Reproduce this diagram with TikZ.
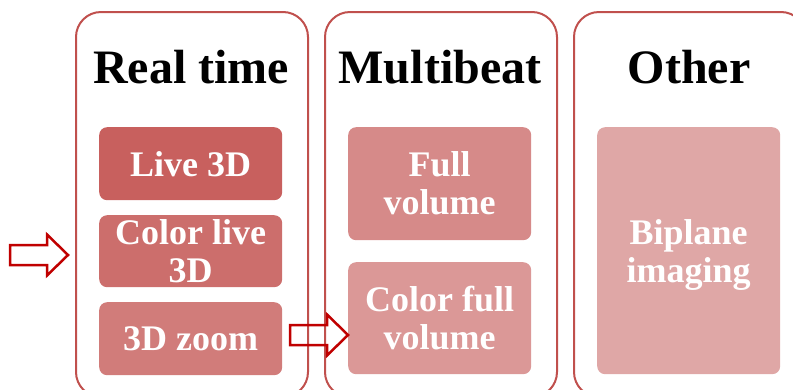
\documentclass[tikz,border=0pt]{standalone}
\usepackage{fontspec}
\setmainfont{Liberation Serif}
\usetikzlibrary{positioning}

\definecolor{frameRed}{RGB}{192,80,77}
\definecolor{arrowRed}{RGB}{192,0,0}
\definecolor{itemA}{RGB}{200,96,94}
\definecolor{itemB}{RGB}{204,110,108}
\definecolor{itemC}{RGB}{209,124,122}
\definecolor{itemD}{RGB}{214,138,137}
\definecolor{itemE}{RGB}{219,152,151}
\definecolor{itemF}{RGB}{223,167,166}

\tikzset{
  blockarr/.pic={
    \draw[arrowRed, line width=2.5pt, line join=miter]
      (0,0) -- (-21,-20.5) -- (-21,-10) -- (-58,-10) -- (-58,10)
      -- (-21,10) -- (-21,20.5) -- cycle;
  }
}

\begin{document}
\begin{tikzpicture}[x=1pt, y=-1pt,
    panel/.style={draw=frameRed, line width=2pt, rounded corners=25pt,
      minimum width=232pt, minimum height=385pt, anchor=north west, inner sep=0pt},
    head/.style={anchor=base, font=\fontsize{48}{50}\selectfont\bfseries},
    item/.style={rounded corners=8pt, minimum width=183pt, anchor=north west,
      inner sep=0pt, text=white, align=center,
      font=\fontsize{36}{38}\selectfont\bfseries}]

    \useasboundingbox (0,0) rectangle (793,389);
    \clip (0,0) rectangle (793,389);

    % Panels
    \node[panel] (rt) at (75,11) {};
    \node[panel] (mb) at (324,11) {};
    \node[panel] (ot) at (573,11) {};

    % Titles
    \node[head] (rtHead) at (191,83) {Real time};
    \node[head] (mbHead) at (440,83) {Multibeat};
    \node[head] (otHead) at (689,83) {Other};

    % Real time
    \node[item, fill=itemA, minimum height=73pt] (live) at (99,127) {Live 3D};
    \node[item, fill=itemB, minimum height=72pt] (clive) at (99,215) {Color live\\3D};
    \node[item, fill=itemC, minimum height=73pt] (zoom) at (99,302) {3D zoom};

    % Multibeat
    \node[item, fill=itemD, minimum height=113pt] (full) at (348,127) {Full\\volume};
    \node[item, fill=itemE, minimum height=112pt] (cfull) at (348,262) {Color full\\volume};

    % Other
    \node[item, fill=itemF, minimum height=247pt, text depth=0pt] (biplane) at (597,127) {Biplane\\imaging};

    % Arrows
    \pic at (68,255) {blockarr};
    \pic at (348,335) {blockarr};

\end{tikzpicture}
\end{document}
